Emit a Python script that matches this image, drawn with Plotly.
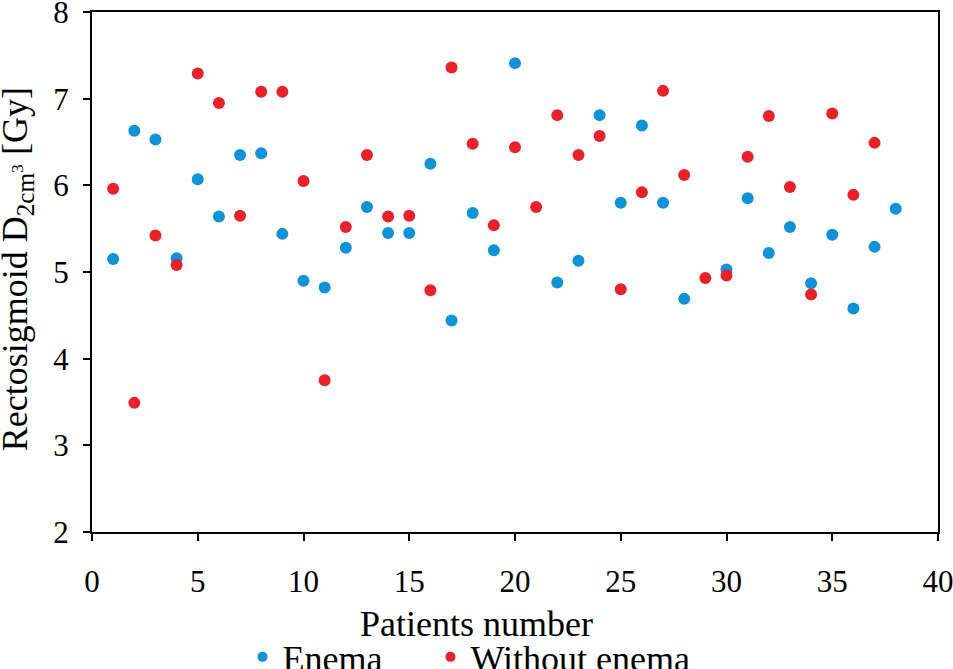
import plotly.graph_objects as go

enema_patients = [1, 2, 3, 4, 5, 6, 7, 8, 9, 10, 11, 12, 13, 14, 15, 16, 17, 18, 19, 20,
                  22, 23, 24, 25, 26, 27, 28, 30, 31, 32, 33, 34, 35, 36, 37, 38]
enema_dose = [5.15, 6.63, 6.53, 5.16, 6.07, 5.64, 6.35, 6.37, 5.44, 4.90, 4.82, 5.28, 5.75,
              5.45, 5.45, 6.25, 4.44, 5.68, 5.25, 7.41,
              4.88, 5.13, 6.81, 5.80, 6.69, 5.80, 4.69, 5.03, 5.85, 5.22, 5.52, 4.87,
              5.43, 4.58, 5.29, 5.73]

without_patients = list(range(1, 38))
without_dose = [5.96, 3.49, 5.42, 5.08, 7.29, 6.95, 5.65, 7.08, 7.08, 6.05, 3.75, 5.52, 6.35,
                5.64, 5.65, 4.79, 7.36, 6.48, 5.54, 6.44, 5.75, 6.81, 6.35, 6.57, 4.80,
                5.92, 7.09, 6.12, 4.93, 4.96, 6.33, 6.80, 5.98, 4.74, 6.83, 5.89, 6.49]

x_ticks = [0, 5, 10, 15, 20, 25, 30, 35, 40]
y_ticks = [2, 3, 4, 5, 6, 7, 8]

x_title = "Patients number"
y_title = "Rectosigmoid D<sub>2cm<sup>3</sup></sub> [Gy]"

BLUE = "#0f92d8"
RED = "#e8212b"
FONT = "Liberation Serif"

fig = go.Figure()
fig.add_trace(go.Scatter(x=enema_patients, y=enema_dose, mode="markers", name="Enema",
                         marker=dict(color=BLUE, size=12), showlegend=False))
fig.add_trace(go.Scatter(x=without_patients, y=without_dose, mode="markers", name="Without enema",
                         marker=dict(color=RED, size=12), showlegend=False))
# legend entries with smaller dots
fig.add_trace(go.Scatter(x=[None], y=[None], mode="markers", name="Enema",
                         marker=dict(color=BLUE, size=10), legend="legend"))
fig.add_trace(go.Scatter(x=[None], y=[None], mode="markers", name="Without enema",
                         marker=dict(color=RED, size=10), legend="legend2"))

axis_common = dict(showgrid=False, zeroline=False, showline=True, linecolor="black",
                   linewidth=2, mirror=True, ticks="outside", ticklen=7, tickwidth=2,
                   tickcolor="black", automargin=False, ticklabeloverflow="allow",
                   tickfont=dict(family=FONT, size=31, color="black"))

fig.update_xaxes(range=[0, 40], tickvals=x_ticks, ticklabelstandoff=14, **axis_common)
fig.update_yaxes(range=[2, 8], tickvals=y_ticks, ticklabelstandoff=8, **axis_common)

title_font = dict(family=FONT, size=36, color="black")
fig.add_annotation(text=x_title, xref="paper", yref="paper", x=0.4545, y=-0.177,
                   xanchor="center", yanchor="middle", showarrow=False, font=title_font)
fig.add_annotation(text=y_title, xref="paper", yref="paper", x=-0.0882, y=0.506,
                   xanchor="center", yanchor="middle", textangle=-90, showarrow=False,
                   font=title_font)

legend_common = dict(orientation="h", xref="container", yref="container",
                     xanchor="left", y=0.018, yanchor="middle",
                     font=dict(family=FONT, size=36, color="black"), itemwidth=30,
                     bgcolor="rgba(0,0,0,0)")

fig.update_layout(
    width=953, height=669,
    margin=dict(l=92, r=15, t=12, b=137),
    plot_bgcolor="white", paper_bgcolor="white",
    legend=dict(x=0.2545, **legend_common),
    legend2=dict(x=0.4517, **legend_common),
)

fig.write_html("out.html", config={"displayModeBar": False},
               post_script="document.body.style.margin='0';")
